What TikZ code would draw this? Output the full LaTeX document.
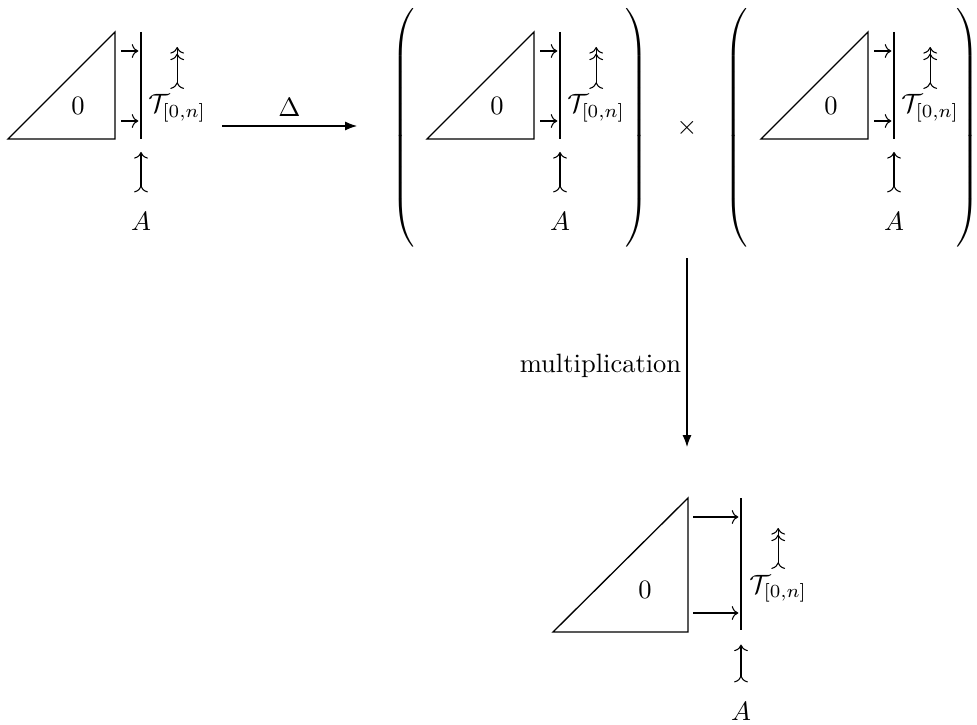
\documentclass[tikz,border=0pt]{standalone}
\usepackage{amsmath}
\usetikzlibrary{arrows.meta}

\begin{document}
\begin{tikzpicture}[
  x=0.01326cm, y=-0.01326cm,
  line width=0.5pt,
  mono/.style={>->, line width=0.4pt},
  epimono/.style={>->>, line width=0.4pt},
  bigarrow/.style={-{Latex[length=4.5pt,width=3.4pt]}, line width=0.4pt},
  paren/.style={inner sep=0pt}
]
\useasboundingbox (0,0) rectangle (977,725);

% the three small pictures on top
\foreach \g/\ox in {1/0, 2/419, 3/753} {
  \begin{scope}[shift={(\ox,0)}]
    \draw (8,139) -- (115,139) -- (115,32) -- cycle;
    \node (zero\g) at (78,106) {$0$};
    \coordinate (bt\g) at (141,32);
    \coordinate (bb\g) at (141,139);
    \draw (bt\g) -- (bb\g);
    \coordinate (a\g) at (121,51);
    \coordinate (b\g) at (121,121);
    \draw[->, line width=0.4pt, shorten >=1pt] (a\g) -- (a\g -| bt\g);
    \draw[->, line width=0.4pt, shorten >=1pt] (b\g) -- (b\g -| bt\g);
    \node[anchor=base west, inner sep=1pt] (T\g) at (145,113) {$\mathcal{T}_{[0,n]}$};
    \coordinate (up\g) at (175,47);
    \draw[epimono, shorten <=1pt] (T\g.north) -- (T\g.north |- up\g);
    \node (A\g) at (141,221) {$A$};
    \draw[mono, shorten <=3.8pt, shorten >=4.9pt] (A\g) -- (bb\g);
  \end{scope}
}

% brackets round the product
\node[paren] (lp2) at (405,128) {$\left(\vrule height 47.6pt depth 42.6pt width 0pt\right.$};
\node[paren] (rp2) at (635,128) {$\left.\vrule height 47.6pt depth 42.6pt width 0pt\right)$};
\node[paren] (lp3) at (738,128) {$\left(\vrule height 47.6pt depth 42.6pt width 0pt\right.$};
\node[paren] (rp3) at (966,128) {$\left.\vrule height 47.6pt depth 42.6pt width 0pt\right)$};
\node (times) at (687,128) {$\times$};

% diagonal map
\coordinate (d1) at (222,126);
\coordinate (d2) at (357,126);
\draw[bigarrow] (d1) -- node[above] {$\Delta$} (d2);

% multiplication
\coordinate (m1) at (687,258);
\coordinate (m2) at (687,447);
\draw[bigarrow] (m1) -- node[left, pos=0.57, inner sep=2pt] {multiplication} (m2);

% result
\draw (553,632) -- (688,632) -- (688,498) -- cycle;
\node (zero4) at (645,590) {$0$};
\coordinate (bt4) at (741,498);
\coordinate (bb4) at (741,630);
\draw (bt4) -- (bb4);
\coordinate (a4) at (693,517);
\coordinate (b4) at (693,613);
\draw[->, line width=0.4pt, shorten >=1pt] (a4) -- (a4 -| bt4);
\draw[->, line width=0.4pt, shorten >=1pt] (b4) -- (b4 -| bt4);
\node[anchor=base west, inner sep=1pt] (T4) at (746,593) {$\mathcal{T}_{[0,n]}$};
\coordinate (up4) at (773,528);
\draw[epimono, shorten <=1pt] (T4.north) -- (T4.north |- up4);
\node (A4) at (741,711) {$A$};
\draw[mono, shorten <=3.8pt, shorten >=5.5pt] (A4) -- (bb4);
\end{tikzpicture}
\end{document}
